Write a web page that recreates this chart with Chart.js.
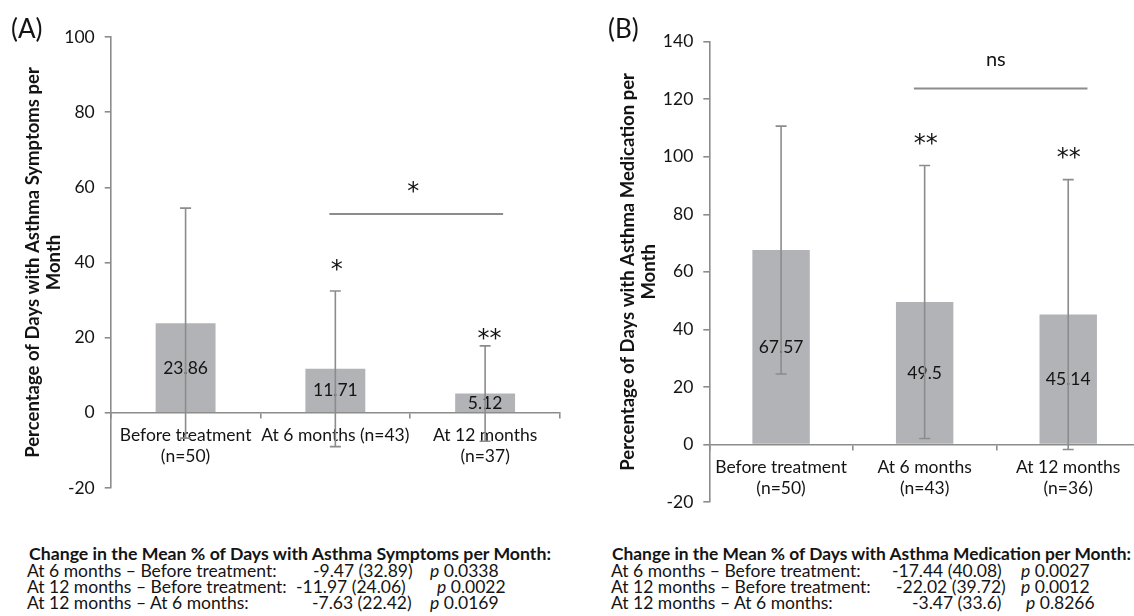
<!DOCTYPE html>
<html>
<head>
<meta charset="utf-8">
<script src="https://cdn.jsdelivr.net/npm/chart.js@4.4.0/dist/chart.umd.min.js"></script>
<style>
  html, body { margin: 0; padding: 0; background: #fff; overflow: hidden; width: 1134px; height: 616px; }
  body { position: relative; font-family: Lato, "Liberation Sans", sans-serif; color: #141414; }
  canvas { position: absolute; top: 0; }
  #chartA { left: 0; }
  #chartB { left: 570px; }
  .panel { position: absolute; font-size: 26px; line-height: 26px; }
  .txt { position: absolute; font-size: 17.5px; line-height: 16px; white-space: nowrap; }
  .hd { font-weight: bold; font-size: 17.7px; transform-origin: 0 50%; }
</style>
</head>
<body>
<canvas id="chartA" width="570" height="509"></canvas>
<canvas id="chartB" width="570" height="523"></canvas>
<div class="panel" style="left:11px; top:15px;">(A)</div>
<div class="panel" style="left:608px; top:15px;">(B)</div>
<div id="notes"></div>
<script>
// Panel A - days with asthma symptoms
const categoriesA = [['Before treatment', '(n=50)'], 'At 6 months (n=43)', ['At 12 months', '(n=37)']];
const meansA = [23.86, 11.71, 5.12];
const sdA = [30.6, 20.7, 12.7];

// Panel B - days with asthma medication
const categoriesB = [['Before treatment', '(n=50)'], ['At 6 months', '(n=43)'], ['At 12 months', '(n=36)']];
const meansB = [67.57, 49.5, 45.14];
const sdB = [43.1, 47.45, 46.9];

// table under the charts
const changeRows = ['At 6 months \u2013 Before treatment:', 'At 12 months \u2013 Before treatment:', 'At 12 months \u2013 At 6 months:'];
const changeA = ['-9.47 (32.89)', '-11.97 (24.06)', '-7.63 (22.42)'];
const pValuesA = ['0.0338', '0.0022', '0.0169'];
const changeB = ['-17.44 (40.08)', '-22.02 (39.72)', '-3.47 (33.6)'];
const pValuesB = ['0.0027', '0.0012', '0.8266'];

const TEXT = '#141414';
const LINE = '#8c8c8c';
const BAR = '#b2b3b6';
const FONT = 'Lato, "Liberation Sans", sans-serif';
const STAR_FONT = '"DejaVu Sans", sans-serif';

Chart.defaults.font.family = FONT;
Chart.defaults.color = TEXT;

// error bars, value labels, significance marks
const extrasPlugin = {
    id: 'extras',
    afterDatasetsDraw(chart, args, opts) {
        const ctx = chart.ctx;
        const x = chart.scales.x;
        const y = chart.scales.y;
        const meta = chart.getDatasetMeta(0);
        const data = chart.data.datasets[0].data;
        ctx.save();

        ctx.font = '17.5px ' + FONT;
        ctx.fillStyle = TEXT;
        ctx.textAlign = 'center';
        ctx.textBaseline = 'middle';
        meta.data.forEach(function(bar, i) {
            const mid = (y.getPixelForValue(data[i]) + y.getPixelForValue(0)) / 2;
            ctx.fillText(String(data[i]), bar.x, mid);
        });

        ctx.strokeStyle = LINE;
        ctx.lineWidth = 1.6;
        opts.sd.forEach(function(sd, i) {
            const cx = meta.data[i].x;
            const top = y.getPixelForValue(data[i] + sd);
            const bot = y.getPixelForValue(data[i] - sd);
            ctx.beginPath();
            ctx.moveTo(cx, top); ctx.lineTo(cx, bot);
            ctx.moveTo(cx - 5.5, top); ctx.lineTo(cx + 5.5, top);
            ctx.moveTo(cx - 5.5, bot); ctx.lineTo(cx + 5.5, bot);
            ctx.stroke();
        });

        // bracket between the two follow-up bars
        const b = opts.bracket;
        ctx.lineWidth = 2;
        ctx.beginPath();
        ctx.moveTo(x.getPixelForValue(b.from), y.getPixelForValue(b.y));
        ctx.lineTo(x.getPixelForValue(b.to), y.getPixelForValue(b.y));
        ctx.stroke();

        // stars / ns: y is the centre of the glyphs
        ctx.textBaseline = 'alphabetic';
        opts.marks.forEach(function(m) {
            const star = m.text.indexOf('*') >= 0;
            ctx.font = m.size + 'px ' + (star ? STAR_FONT : FONT);
            const drop = star ? 0.6 * m.size : 0.25 * m.size;
            ctx.fillText(m.text, x.getPixelForValue(m.at), y.getPixelForValue(m.y) + drop);
        });
        ctx.restore();
    }
};

function makeChart(id, labels, values, sd, yMax, yWidth, padding, title, extras) {
    const ctx = document.getElementById(id).getContext('2d');
    return new Chart(ctx, {
        type: 'bar',
        data: {
            labels: labels,
            datasets: [{
                data: values,
                backgroundColor: BAR,
                barPercentage: 0.4,
                categoryPercentage: 1.0
            }]
        },
        options: {
            responsive: false,
            animation: false,
            layout: { padding: padding },
            plugins: {
                legend: { display: false },
                tooltip: { enabled: false },
                extras: Object.assign({ sd: sd }, extras)
            },
            scales: {
                x: {
                    position: { y: 0 },
                    ticks: { font: { size: 17.5 }, color: TEXT, padding: 7, maxRotation: 0, autoSkip: false },
                    grid: { drawOnChartArea: false, tickLength: 5, color: LINE, lineWidth: 1.6, offset: true },
                    border: { color: LINE, width: 1.6 }
                },
                y: {
                    min: -20,
                    max: yMax,
                    ticks: { stepSize: 20, font: { size: 17.5 }, color: TEXT, padding: 10 },
                    grid: { drawOnChartArea: false, tickLength: 6, color: LINE, lineWidth: 1.6 },
                    border: { color: LINE, width: 1.6 },
                    title: {
                        display: true,
                        text: title,
                        color: TEXT,
                        font: { size: 18.5, weight: 'bold', lineHeight: 1.14 },
                        padding: { top: title.pad, bottom: 0 }
                    },
                    afterFit: function(scale) { scale.width = yWidth; }
                }
            }
        },
        plugins: [extrasPlugin]
    });
}

const titleA = ['Percentage of Days with Asthma Symptoms per', 'Month'];
titleA.pad = 22;
const titleB = ['Percentage of Days with Asthma Medication per', 'Month'];
titleB.pad = 47;

makeChart('chartA', categoriesA, meansA, sdA, 100, 110.7,
    { top: 37, bottom: 21, left: 0, right: 10 }, titleA, {
        bracket: { from: 0.96, to: 2.12, y: 52.9 },
        marks: [
            { text: '*', at: 1.52, y: 60.6, size: 24 },
            { text: '*', at: 1.01, y: 40, size: 24 },
            { text: '**', at: 2.03, y: 21.5, size: 24 }
        ]
    });

makeChart('chartB', categoriesB, meansB, sdB, 140, 139.3,
    { top: 41.7, bottom: 21, left: 0, right: 0 }, titleB, {
        bracket: { from: 0.925, to: 2.134, y: 123.7 },
        marks: [
            { text: 'ns', at: 1.496, y: 133.3, size: 20 },
            { text: '**', at: 1.008, y: 107, size: 24 },
            { text: '**', at: 2.004, y: 102, size: 24 }
        ]
    });

// summary table below each chart
const notes = document.getElementById('notes');
function addText(html, left, center, cls) {
    const d = document.createElement('div');
    d.className = 'txt' + (cls ? ' ' + cls : '');
    d.innerHTML = html;
    d.style.left = left + 'px';
    d.style.top = (center - 8) + 'px';
    notes.appendChild(d);
    return d;
}
// squeeze a heading to the width it has in the figure
function fitWidth(el, target) {
    const w = el.getBoundingClientRect().width;
    if (w > 0) el.style.transform = 'scaleX(' + (target / w) + ')';
}
const rowY = [571, 587, 603];
fitWidth(addText('Change in the Mean % of Days with Asthma Symptoms per Month:', 29, 554, 'hd'), 522);
fitWidth(addText('Change in the Mean % of Days with Asthma Medication per Month:', 612, 554, 'hd'), 519);
const valLeftA = [313, 296, 312], pLeftA = [430, 437, 430];
const valLeftB = [892, 896, 912], pLeftB = [1021, 1021, 1026];
changeRows.forEach(function(row, i) {
    addText(row, 27, rowY[i]);
    addText(changeA[i], valLeftA[i], rowY[i]);
    addText('<i>p</i> ' + pValuesA[i], pLeftA[i], rowY[i]);
    addText(row, 611, rowY[i]);
    addText(changeB[i], valLeftB[i], rowY[i]);
    addText('<i>p</i> ' + pValuesB[i], pLeftB[i], rowY[i]);
});
</script>
</body>
</html>
